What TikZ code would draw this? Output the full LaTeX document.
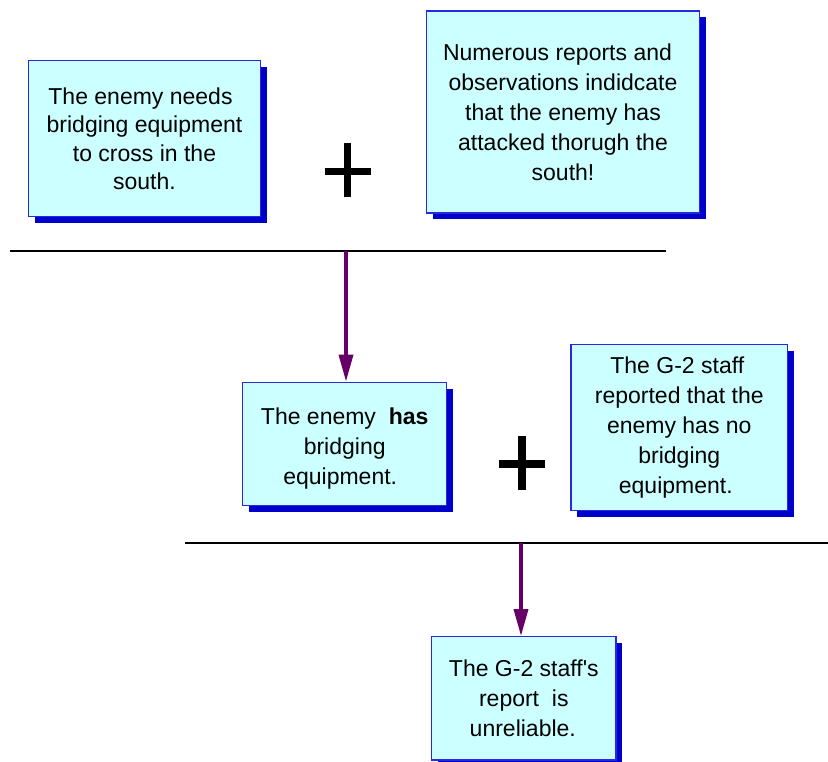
\documentclass[tikz,border=0pt]{standalone}
\usepackage{fontspec}
\setmainfont{Liberation Sans}
\usetikzlibrary{arrows.meta,shadows}
\definecolor{boxfill}{RGB}{204,255,255}
\definecolor{boxline}{RGB}{40,40,220}
\definecolor{shadowblue}{RGB}{0,0,204}
\definecolor{arrowpurple}{RGB}{102,0,102}
% trailing space at a line end, as typed in the text boxes
\newcommand{\tail}[1]{\hspace*{#1pt}}
\tikzset{
  premise/.style={draw=boxline, line width=1.2pt, fill=boxfill, align=center,
    inner sep=0pt, font=\fontsize{23}{30}\selectfont,
    drop shadow={shadow xshift=6.5pt, shadow yshift=-6.5pt, fill=shadowblue, opacity=1}},
  rule/.style={line width=1.3pt, black},
  infer/.style={line width=3.5pt, arrowpurple, -{Triangle[length=27pt,width=14pt]}},
  plusbar/.style={line width=7.5pt, black}
}
\begin{document}
\begin{tikzpicture}[x=1pt,y=-1pt]
\useasboundingbox (0,0) rectangle (828,762);

% first pair of premises
\node[premise, font=\fontsize{23}{28.5}\selectfont, minimum width=232pt, minimum height=156pt] (need) at (144.5,138.7)
  {The enemy needs\tail{8}\\bridging equipment\tail{16}\\to cross in the\tail{4}\\south.};
\node[premise, minimum width=272.5pt, minimum height=202pt] (reports) at (563,112)
  {Numerous reports and\tail{11}\\observations indidcate\tail{10}\\that the enemy has\tail{6}\\attacked thorugh the\tail{10}\\south!};

% plus sign between them
\coordinate (plusA) at (347.7,171.5);
\draw[plusbar] ([xshift=-23pt]plusA) -- ([xshift=23pt]plusA);
\draw[plusbar] ([yshift=-26pt]plusA) -- ([yshift=28pt]plusA);

% first inference rule
\coordinate (ruleAl) at (10,251);
\coordinate (ruleAr) at (666,251);
\draw[rule] (ruleAl) -- (ruleAr);
\coordinate (ruleAarrow) at (346,251);

% first conclusion and the G-2 report
\node[premise, minimum width=204pt, minimum height=123.5pt] (has) at (344.7,444)
  {\raisebox{0pt}[26pt]{}The enemy \ \textbf{has}\\bridging\tail{7}\\equipment.\tail{9}};
\node[premise, minimum width=216.7pt, minimum height=166.7pt] (gtwo) at (679.3,427.5)
  {The G-2 staff\tail{4}\\reported that the\tail{7}\\enemy has no\tail{8}\\bridging\tail{8}\\equipment.\tail{7}};
\draw[infer] (ruleAarrow) -- (has.north -| ruleAarrow);

% plus sign between them
\coordinate (plusB) at (522,464);
\draw[plusbar] ([xshift=-23pt]plusB) -- ([xshift=23pt]plusB);
\draw[plusbar] ([yshift=-26pt]plusB) -- ([yshift=28pt]plusB);

% second inference rule
\coordinate (ruleBl) at (185,543);
\coordinate (ruleBr) at (828,543);
\draw[rule] (ruleBl) -- (ruleBr);
\coordinate (ruleBarrow) at (521,543);

% final conclusion
\node[premise, minimum width=184.3pt, minimum height=123.3pt] (unrel) at (523.8,698.3)
  {The G-2 staff\textquotesingle s\\report \ is\\unreliable.\tail{2}};
\draw[infer] (ruleBarrow) -- (unrel.north -| ruleBarrow);
\end{tikzpicture}
\end{document}
